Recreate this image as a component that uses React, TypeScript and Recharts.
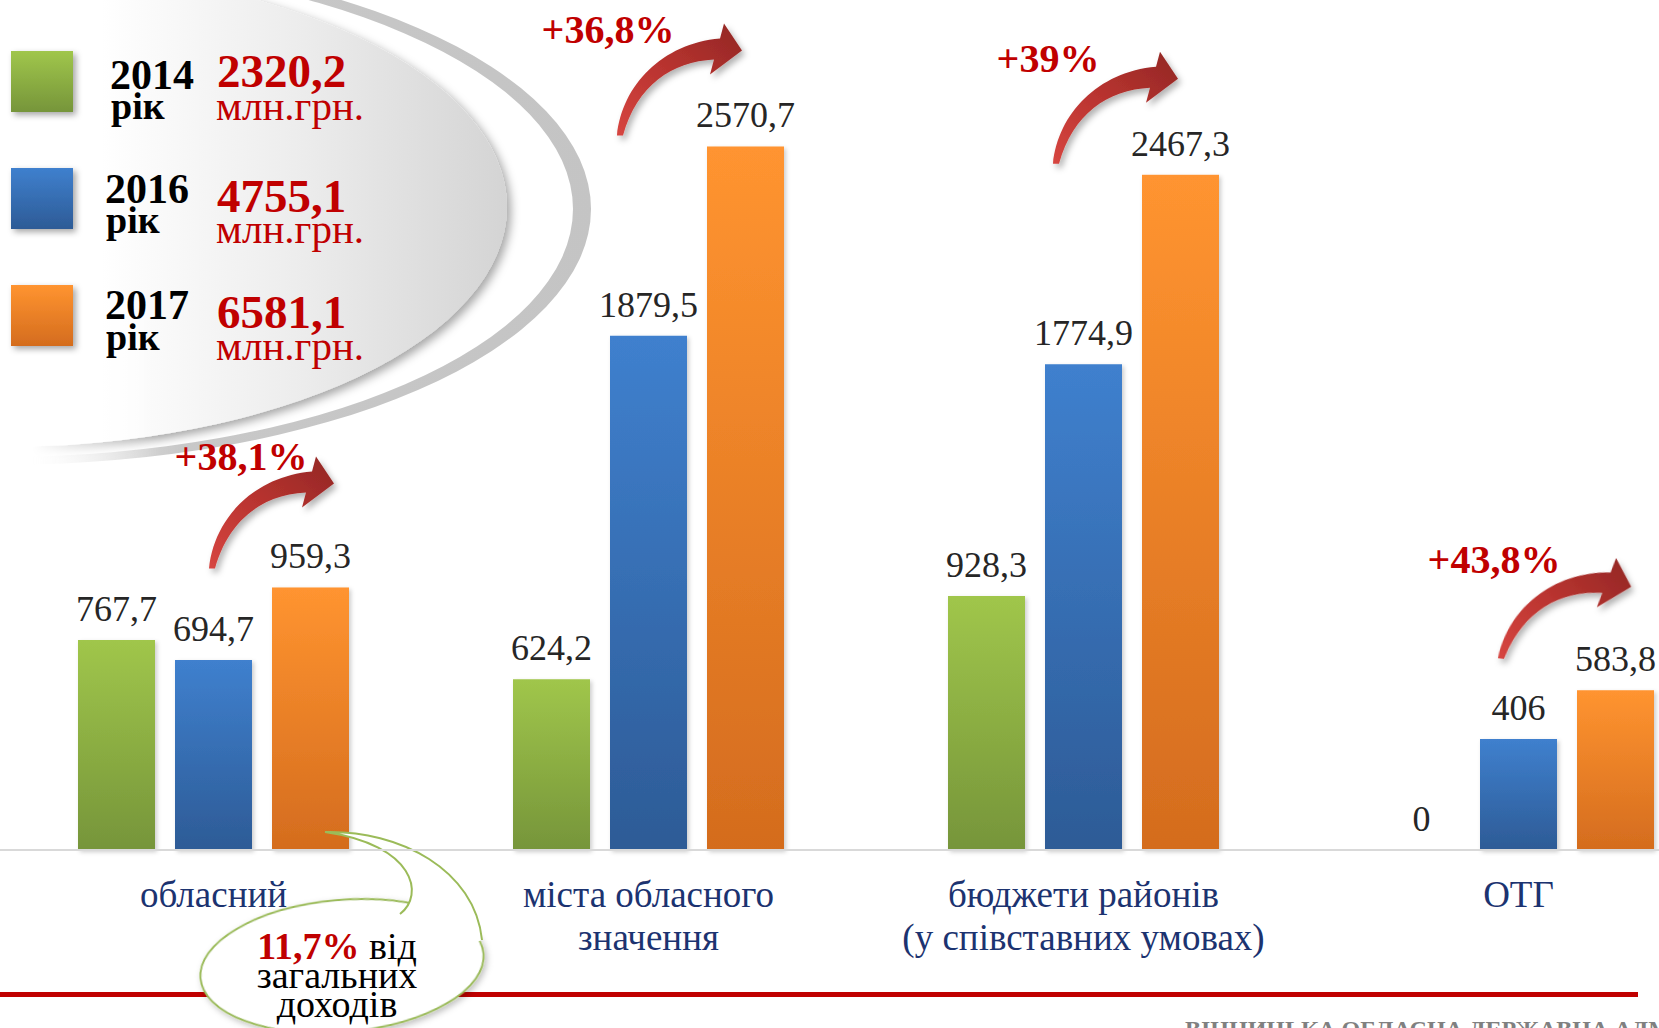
import React from 'react';
import { BarChart, Bar, XAxis, YAxis, LabelList } from 'recharts';

// budget categories and values, млн.грн.
const categories = [
  'обласний',
  'міста обласного\nзначення',
  'бюджети районів\n(у співставних умовах)',
  'ОТГ',
];
const values2014 = [767.7, 624.2, 928.3, 0];
const values2016 = [694.7, 1879.5, 1774.9, 406];
const values2017 = [959.3, 2570.7, 2467.3, 583.8];
const growth = ['+38,1%', '+36,8%', '+39%', '+43,8%'];

const years = ['2014', '2016', '2017'];
const totals = ['2320,2', '4755,1', '6581,1'];
const shareNote = '11,7%';

const data = categories.map((name, i) => ({
  name,
  v2014: values2014[i],
  v2016: values2016[i],
  v2017: values2017[i],
}));

const SERIF = '"Liberation Serif", "Times New Roman", serif';
const RED = '#C00000';

// arrow / percent placement relative to the orange bar top-left
const arrowLayout = [
  { tx: -63, ty: -19, px: -31, py: -117, rot: 0 },
  { tx: -90, ty: -11, px: -99, py: -103, rot: 0 },
  { tx: -89, ty: -11, px: -94, py: -103, rot: 0 },
  { tx: -79, ty: -32, px: -83, py: -117, rot: 6 },
];

const fmt = (v: any) => String(v).replace('.', ',');

const ValueLabel = (p: any) => {
  const vb = p.viewBox && p.viewBox.width != null ? p.viewBox : p;
  const top = Math.min(vb.y, vb.y + (vb.height || 0));
  return (
    <text
      x={vb.x + vb.width / 2}
      y={top - 19}
      textAnchor="middle"
      fill="#262626"
      fontSize={36}
      fontFamily={SERIF}
    >
      {fmt(p.value)}
    </text>
  );
};

const CatTick = (props: any) => {
  const { x, y, payload } = props;
  const lines = String(payload.value).split('\n');
  return (
    <text x={x} y={y} textAnchor="middle" fill="#1C3370" fontSize={37} fontFamily={SERIF}>
      {lines.map((l, i) => (
        <tspan key={i} x={x} dy={i === 0 ? 57 : 43}>{l}</tspan>
      ))}
    </text>
  );
};

const ARROW =
  'M 0 0 C 5 -50, 45 -92, 103 -97 L 107 -112 L 125 -85 L 93 -61 L 97 -76 C 55 -74, 20 -50, 6 0 Z';

const Bubble = ({ bx, by }: { bx: number; by: number }) => {
  const tail = `M ${bx + 75} ${by + 82} C ${bx + 100} ${by + 63}, ${bx + 90} ${by + 13}, ${bx} ${by} C ${bx + 75} ${by - 2}, ${bx + 150} ${by + 38}, ${bx + 157} ${by + 108}`;
  return (
    <g>
      <ellipse
        cx={bx + 17}
        cy={by + 134}
        rx={142}
        ry={66}
        transform={`rotate(-5 ${bx + 17} ${by + 134})`}
        fill="#fff"
        stroke="#9BBB59"
        strokeWidth={2}
        filter="url(#bubShadow)"
      />
      <path d={`${tail} L ${bx + 100} ${by + 130} Z`} fill="#fff" stroke="none" />
      <path d={tail} fill="none" stroke="#9BBB59" strokeWidth={2} />
      <text x={bx + 12} textAnchor="middle" fontFamily={SERIF} fontSize={38} fill="#000">
        <tspan x={bx + 12} y={by + 127}>
          <tspan fill={RED} fontWeight="bold">{shareNote}</tspan> від
        </tspan>
        <tspan x={bx + 12} y={by + 156}>загальних</tspan>
        <tspan x={bx + 12} y={by + 185}>доходів</tspan>
      </text>
    </g>
  );
};

const OrangeShape = (props: any) => {
  const { x, y, width, height, index } = props;
  const a = arrowLayout[index];
  return (
    <g>
      <rect x={x} y={y} width={width} height={height} fill="url(#gOrange)" filter="url(#barShadow)" />
      <g transform={`translate(${x + a.tx} ${y + a.ty}) rotate(${a.rot})`}>
        <path d={ARROW} fill="url(#gArrow)" filter="url(#arrShadow)" />
      </g>
      <text
        x={x + a.px}
        y={y + a.py}
        textAnchor="middle"
        fontFamily={SERIF}
        fontWeight="bold"
        fontSize={40}
        fill={RED}
      >
        {growth[index]}
      </text>
      {index === 0 && <Bubble bx={x + 53} by={y + height - 18} />}
    </g>
  );
};

const legendRows = [
  { sq: 51, yx: 110, yearY: 89, rikY: 119, totY: 87, unitY: 120 },
  { sq: 168, yx: 105, yearY: 203, rikY: 233, totY: 212, unitY: 243 },
  { sq: 285, yx: 105, yearY: 319, rikY: 350, totY: 328, unitY: 360 },
];
const legendGrads = [
  ['#A0C64B', '#76953A'],
  ['#3F80CE', '#2D5B96'],
  ['#FF9430', '#D46C1E'],
];

const Backdrop = () => (
  <svg width={1659} height={1028} style={{ position: 'absolute', left: 0, top: 0 }}>
    <defs>
      <linearGradient id="ellFill" gradientUnits="userSpaceOnUse" x1={0} y1={0} x2={507} y2={0}>
        <stop offset="0.2" stopColor="#ffffff" />
        <stop offset="0.6" stopColor="#ececec" />
        <stop offset="1" stopColor="#d4d4d4" />
      </linearGradient>
      <linearGradient id="ringFill" gradientUnits="userSpaceOnUse" x1={0} y1={0} x2={600} y2={0}>
        <stop offset="0" stopColor="#c8c8c8" stopOpacity={0} />
        <stop offset="0.3" stopColor="#c8c8c8" stopOpacity={1} />
        <stop offset="1" stopColor="#c4c4c4" />
      </linearGradient>
      <linearGradient id="fadeLeft" gradientUnits="userSpaceOnUse" x1={0} y1={0} x2={160} y2={0}>
        <stop offset="0" stopColor="#000" />
        <stop offset="0.2" stopColor="#000" />
        <stop offset="1" stopColor="#fff" />
      </linearGradient>
      <mask id="swooshMask" maskUnits="userSpaceOnUse" x={0} y={0} width={700} height={520}>
        <rect x={0} y={0} width={700} height={520} fill="url(#fadeLeft)" />
        <rect x={160} y={0} width={540} height={520} fill="#fff" />
        <rect x={0} y={0} width={700} height={300} fill="#fff" />
      </mask>
      <filter id="ellShadow" x="-20%" y="-20%" width="140%" height="140%">
        <feDropShadow dx={4} dy={4} stdDeviation={5} floodColor="#000" floodOpacity={0.35} />
      </filter>
      <filter id="sqShadow" x="-30%" y="-30%" width="160%" height="160%">
        <feDropShadow dx={3} dy={3} stdDeviation={3} floodColor="#000" floodOpacity={0.35} />
      </filter>
      {legendGrads.map((g, i) => (
        <linearGradient key={i} id={`lg${i}`} x1="0" y1="0" x2="0" y2="1">
          <stop offset="0" stopColor={g[0]} />
          <stop offset="1" stopColor={g[1]} />
        </linearGradient>
      ))}
    </defs>
    <g mask="url(#swooshMask)">
      <ellipse cx={0} cy={207} rx={507} ry={240} fill="url(#ellFill)" filter="url(#ellShadow)" />
      <path
        d="M -591 209 A 591 256 0 1 0 591 209 A 591 256 0 1 0 -591 209 Z M -573 209 A 573 248 0 1 0 573 209 A 573 248 0 1 0 -573 209 Z"
        fill="url(#ringFill)"
        fillRule="evenodd"
      />
    </g>
    {legendRows.map((r, i) => (
      <g key={i}>
        <rect x={11} y={r.sq} width={62} height={61} fill={`url(#lg${i})`} filter="url(#sqShadow)" />
        <text x={r.yx} y={r.yearY} fontFamily={SERIF} fontWeight="bold" fontSize={42} fill="#000">
          {years[i]}
        </text>
        <text x={r.yx + 1} y={r.rikY} fontFamily={SERIF} fontWeight="bold" fontSize={38} fill="#000">
          рік
        </text>
        <text x={217} y={r.totY} fontFamily={SERIF} fontWeight="bold" fontSize={47} fill={RED}>
          {totals[i]}
        </text>
        <text x={216} y={r.unitY} fontFamily={SERIF} fontSize={41} fill={RED}>
          млн.грн.
        </text>
      </g>
    ))}
    <rect x={0} y={992} width={1638} height={5} fill={RED} />
    <text x={1185} y={1037} fontFamily={SERIF} fontWeight="bold" fontSize={24} fill="#808080">
      ВІННИЦЬКА ОБЛАСНА ДЕРЖАВНА АДМІНІСТРАЦІЯ
    </text>
  </svg>
);

export default function App() {
  return (
    <div
      style={{
        position: 'absolute',
        left: 0,
        top: 0,
        width: 1659,
        height: 1028,
        overflow: 'hidden',
        background: '#fff',
      }}
    >
      <Backdrop />
      <div style={{ position: 'absolute', left: -4, top: 0 }}>
        <BarChart
          width={1740}
          height={1028}
          data={data}
          margin={{ top: 29, right: 0, bottom: 177, left: 0 }}
          barSize={77}
          barGap={20}
        >
          <defs>
            <linearGradient id="gGreen" x1="0" y1="0" x2="0" y2="1">
              <stop offset="0" stopColor="#A0C64B" />
              <stop offset="1" stopColor="#76953A" />
            </linearGradient>
            <linearGradient id="gBlue" x1="0" y1="0" x2="0" y2="1">
              <stop offset="0" stopColor="#3F80CE" />
              <stop offset="1" stopColor="#2D5B96" />
            </linearGradient>
            <linearGradient id="gOrange" x1="0" y1="0" x2="0" y2="1">
              <stop offset="0" stopColor="#FF9430" />
              <stop offset="1" stopColor="#D46C1E" />
            </linearGradient>
            <linearGradient id="gArrow" x1="0" y1="1" x2="1" y2="0">
              <stop offset="0" stopColor="#D64540" />
              <stop offset="0.5" stopColor="#B8332F" />
              <stop offset="1" stopColor="#922725" />
            </linearGradient>
            <filter id="barShadow" x="-20%" y="-5%" width="140%" height="110%">
              <feDropShadow dx={2} dy={2} stdDeviation={2} floodColor="#000" floodOpacity={0.2} />
            </filter>
            <filter id="arrShadow" x="-30%" y="-30%" width="160%" height="160%">
              <feDropShadow dx={3} dy={4} stdDeviation={3} floodColor="#000" floodOpacity={0.3} />
            </filter>
            <filter id="bubShadow" x="-20%" y="-30%" width="140%" height="160%">
              <feDropShadow dx={2} dy={3} stdDeviation={3} floodColor="#000" floodOpacity={0.25} />
            </filter>
          </defs>
          <XAxis
            dataKey="name"
            axisLine={{ stroke: '#D9D9D9', strokeWidth: 2 }}
            tickLine={false}
            tickSize={0}
            tickMargin={0}
            height={1}
            interval={0}
            tick={<CatTick />}
          />
          <YAxis hide width={0} domain={[0, 3000]} />
          <Bar
            dataKey="v2014"
            fill="url(#gGreen)"
            filter="url(#barShadow)"
            minPointSize={0.01}
            isAnimationActive={false}
          >
            <LabelList dataKey="v2014" content={ValueLabel} />
          </Bar>
          <Bar dataKey="v2016" fill="url(#gBlue)" filter="url(#barShadow)" isAnimationActive={false}>
            <LabelList dataKey="v2016" content={ValueLabel} />
          </Bar>
          <Bar dataKey="v2017" fill="url(#gOrange)" shape={OrangeShape} isAnimationActive={false}>
            <LabelList dataKey="v2017" content={ValueLabel} />
          </Bar>
        </BarChart>
      </div>
    </div>
  );
}
